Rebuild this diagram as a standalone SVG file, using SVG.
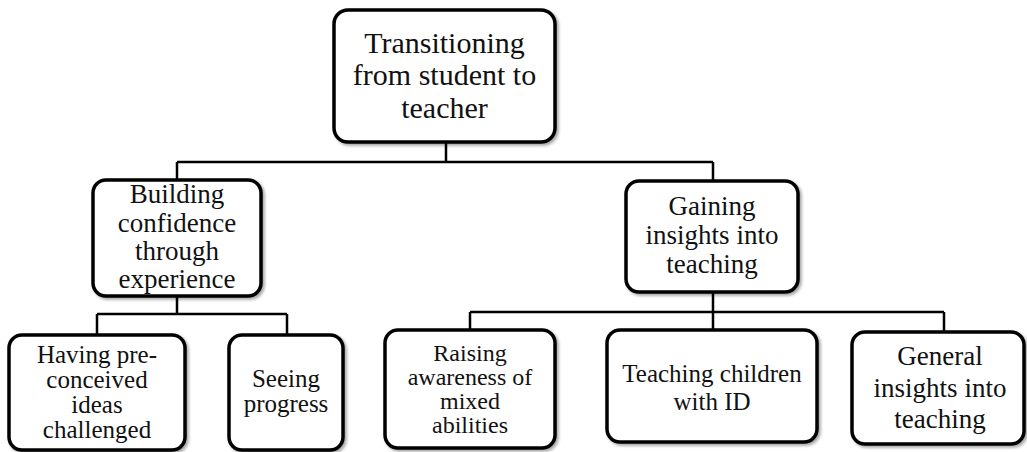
<svg xmlns="http://www.w3.org/2000/svg" width="1027" height="452" viewBox="0 0 1027 452" font-family="Liberation Serif, DejaVu Serif, serif">
<defs>
<filter id="sh" x="-10%" y="-10%" width="130%" height="130%">
<feDropShadow dx="2" dy="2" stdDeviation="1.5" flood-color="#000" flood-opacity="0.35"/>
</filter>
<style>
.box{fill:#fff;stroke:#000;stroke-width:3.5;filter:url(#sh)}
.con{fill:none;stroke:#000;stroke-width:2.5}
text{font-family:"Liberation Serif","DejaVu Serif",serif;fill:#111;text-anchor:middle}
.t1{font-size:30px}
.t2{font-size:27px}
.t3{font-size:25px}
.t4{font-size:24px}
</style>
</defs>
<rect width="1027" height="452" fill="#fff"/>
<g id="connectors">
<path class="con" d="M446 142V162M177 162H713M177 162V180M713 162V181"/>
<path class="con" d="M177 296V314M97 314H287M97 314V335M287 314V335"/>
<path class="con" d="M713 292V330M470 312H944M470 312V330M944 312V332"/>
</g>
<g id="root">
<rect class="box" x="334" y="10" width="221" height="132" rx="14"/>
<text class="t1" x="444.5" y="53">Transitioning</text>
<text class="t1" x="444.5" y="85">from student to</text>
<text class="t1" x="444.5" y="118">teacher</text>
</g>
<g id="building">
<rect class="box" x="93" y="180" width="168" height="116" rx="13"/>
<text class="t2" x="177" y="203">Building</text>
<text class="t2" x="177" y="232">confidence</text>
<text class="t2" x="177" y="260">through</text>
<text class="t2" x="177" y="288">experience</text>
</g>
<g id="gaining">
<rect class="box" x="626" y="181" width="172" height="111" rx="13"/>
<text class="t2" x="712" y="215">Gaining</text>
<text class="t2" x="712" y="244">insights into</text>
<text class="t2" x="712" y="273">teaching</text>
</g>
<g id="having">
<rect class="box" x="9" y="335" width="176" height="115" rx="13"/>
<text class="t3" x="97" y="363">Having pre-</text>
<text class="t3" x="97" y="388">conceived</text>
<text class="t3" x="97" y="413">ideas</text>
<text class="t3" x="97" y="438">challenged</text>
</g>
<g id="seeing">
<rect class="box" x="229" y="335" width="114" height="115" rx="13"/>
<text class="t3" x="286" y="387">Seeing</text>
<text class="t3" x="286" y="412">progress</text>
</g>
<g id="raising">
<rect class="box" x="385" y="330" width="170" height="118" rx="13"/>
<text class="t4" x="470" y="361">Raising</text>
<text class="t4" x="470" y="385">awareness of</text>
<text class="t4" x="470" y="409">mixed</text>
<text class="t4" x="470" y="433">abilities</text>
</g>
<g id="teaching-id">
<rect class="box" x="607" y="330" width="210" height="112" rx="13"/>
<text class="t3" x="712" y="382">Teaching children</text>
<text class="t3" x="712" y="410">with ID</text>
</g>
<g id="general">
<rect class="box" x="852" y="332" width="172" height="112" rx="13"/>
<text class="t2" x="940" y="365">General</text>
<text class="t2" x="940" y="397">insights into</text>
<text class="t2" x="940" y="428">teaching</text>
</g>
</svg>
